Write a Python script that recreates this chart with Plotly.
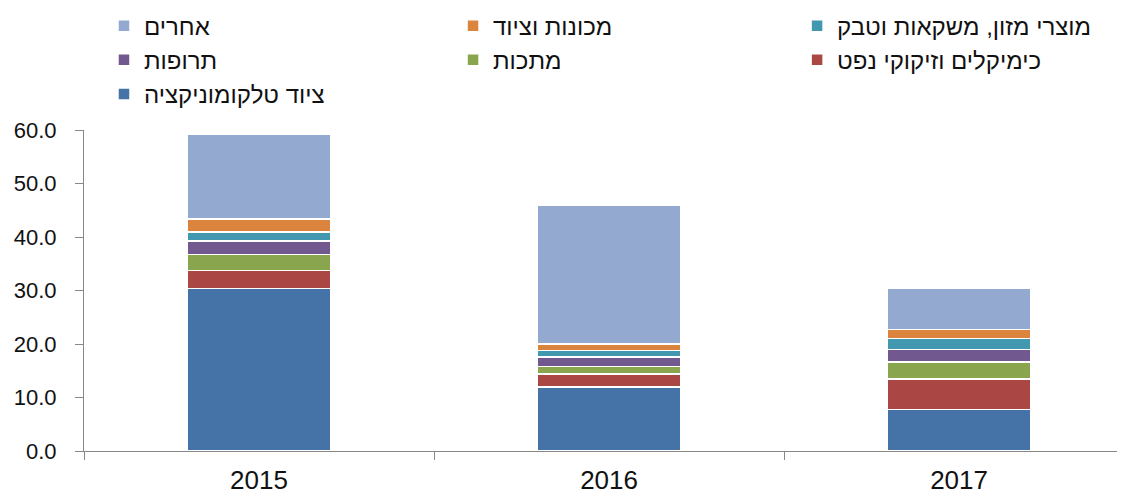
import plotly.graph_objects as go

years = ["2015", "2016", "2017"]
telecom = [30.4, 12.0, 7.8]
chem = [3.3, 2.4, 5.7]
metals = [3.0, 1.35, 3.1]
pharma = [2.55, 1.85, 2.4]
food = [1.65, 1.15, 2.05]
machinery = [2.5, 1.25, 1.65]
others = [15.85, 26.0, 7.8]

names = {
    "telecom": "ציוד טלקומוניקציה",
    "chem": "כימיקלים וזיקוקי נפט",
    "metals": "מתכות",
    "pharma": "תרופות",
    "food": "מוצרי מזון, משקאות וטבק",
    "machinery": "מכונות וציוד",
    "others": "אחרים",
}
colors = {
    "telecom": "#4572A7",
    "chem": "#AA4643",
    "metals": "#89A54E",
    "pharma": "#71588F",
    "food": "#4198AF",
    "machinery": "#DB843D",
    "others": "#93A9CF",
}
# legend column and rank (row) for each series
series = [
    ("telecom", telecom, "legend", 3),
    ("chem", chem, "legend3", 2),
    ("metals", metals, "legend2", 2),
    ("pharma", pharma, "legend", 2),
    ("food", food, "legend3", 1),
    ("machinery", machinery, "legend2", 1),
    ("others", others, "legend", 1),
]

fig = go.Figure()
for key, vals, leg, rank in series:
    fig.add_trace(go.Bar(
        x=years, y=vals, name=names[key],
        marker=dict(color=colors[key], line=dict(color="white", width=1.5)),
        width=0.41, legend=leg, legendrank=rank, legendgroup=key,
    ))

font = "Liberation Sans, Arial, sans-serif"
legcommon = dict(orientation="v", xanchor="left", yanchor="top",
                 y=1.394, tracegroupgap=0,
                 font=dict(family=font, size=24, color="#111"),
                 bgcolor="rgba(0,0,0,0)", traceorder="grouped")
fig.update_layout(
    width=1125, height=494,
    margin=dict(l=76, r=8, t=122, b=51, autoexpand=False),
    barmode="stack",
    plot_bgcolor="white", paper_bgcolor="white",
    font=dict(family=font, size=19, color="#111"),
    legend=dict(**legcommon, x=0.0192),
    legend2=dict(**legcommon, x=0.3545),
    legend3=dict(**legcommon, x=0.685),
    xaxis=dict(type="category", range=[-0.5, 2.474], showline=True,
               linecolor="#888", linewidth=1, ticks="outside",
               tickson="boundaries", ticklen=8, tickcolor="#888",
               ticklabelstandoff=6,
               tickfont=dict(size=26, color="#111"), showgrid=False),
    yaxis=dict(range=[0, 60], dtick=10, tickformat=".1f", showline=True,
               linecolor="#888", linewidth=1, ticks="outside", ticklen=8,
               tickcolor="#888", showgrid=False, zeroline=False,
               ticklabelstandoff=14,
               tickfont=dict(size=22, color="#111")),
)
fig.write_html("out.html")
